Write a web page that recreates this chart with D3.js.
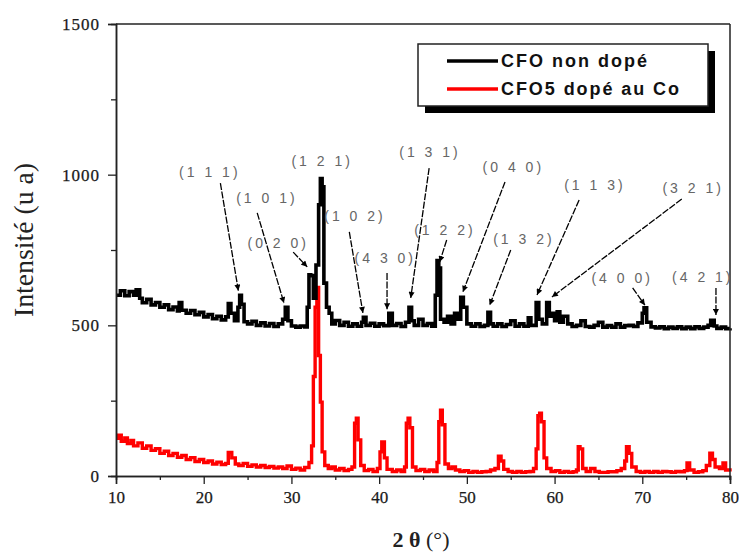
<!DOCTYPE html>
<html>
<head>
<meta charset="utf-8">
<script src="https://cdn.jsdelivr.net/npm/d3@7"></script>
<style>
html,body{margin:0;padding:0;background:#fff;}
svg{display:block;}
</style>
</head>
<body>
<svg id="chart" width="739" height="554"></svg>
<script>
// ---------- data ----------
const seriesNames = ["CFO non dopé", "CFO5 dopé au Co"];
const xTicks = [10, 20, 30, 40, 50, 60, 70, 80];
const yTicks = [0, 500, 1000, 1500];

// CFO non dopé : [2θ, intensity]
const cfoUndoped = [
[10,600],[10.5,615],[11,598],[11.5,612],[12,600],[12.3,618],[12.7,590],[13,575],[13.5,586],[14,568],[14.5,576],
[15,560],[15.5,568],[16,552],[16.5,561],[17,548],[17.2,576],[17.5,550],[18,540],[18.5,549],[19,535],[19.5,543],
[20,528],[20.5,536],[21,522],[21.5,530],[22,518],[22.5,528],[22.8,572],[23.1,540],[23.5,515],[23.9,560],[24.1,600],
[24.3,570],[24.6,512],[25,505],[25.5,513],[26,500],[26.5,508],[27,498],[27.5,506],[28,496],[28.5,505],[29,520],
[29.3,560],[29.6,515],[30,498],[30.5,494],[31,498],[31.5,495],[31.8,560],[32.0,668],[32.2,665],[32.5,590],
[32.8,700],[33.1,900],[33.3,987],[33.5,960],[33.7,640],[34.0,560],[34.3,540],[34.6,505],[35,516],[35.5,500],
[36,510],[36.5,497],[37,505],[37.5,497],[38.0,510],[38.2,527],[38.5,500],[39,507],[39.5,497],[40,505],[40.5,499],
[41.1,540],[41.5,500],[42,506],[42.5,496],[43.0,510],[43.4,560],[43.7,515],[44,500],[44.5,520],[45,500],[45.5,506],
[46,497],[46.4,600],[46.6,715],[46.8,690],[47.0,520],[47.4,510],[47.8,530],[48.2,505],[48.6,540],[49.0,520],
[49.3,593],[49.6,560],[50,505],[50.5,497],[51,505],[51.5,496],[52,500],[52.4,543],[52.7,505],[53,497],[53.5,505],
[54,496],[54.5,503],[55,515],[55.5,497],[56,505],[56.5,497],[57,525],[57.3,500],[57.9,576],[58.2,520],[58.6,505],
[59.1,576],[59.4,530],[59.7,540],[60.0,515],[60.3,545],[60.6,510],[61,530],[61.5,505],[62,496],[62.5,500],[63,515],
[63.5,496],[64,494],[64.5,500],[65,510],[65.5,494],[66,499],[66.5,494],[67,505],[67.5,494],[68,499],[68.5,500],
[69,496],[69.5,508],[70.0,540],[70.2,558],[70.5,510],[71,495],[71.5,491],[72,495],[72.5,489],[73,494],[73.5,490],
[74,495],[74.5,489],[75,494],[75.5,489],[76,495],[76.5,490],[77,494],[77.5,500],[77.8,517],[78.2,498],[78.5,490],
[79,494],[79.5,489],[80,490]
];

// CFO5 dopé au Co : [2θ, intensity]
const cfoCoDoped = [
[10,125],[10.3,135],[10.6,115],[11,126],[11.3,108],[11.7,118],[12,100],[12.5,110],[13,92],[13.5,100],[14,85],
[14.5,91],[15,75],[15.5,82],[16,68],[16.5,75],[17,62],[17.5,68],[18,55],[18.5,61],[19,48],[19.5,55],[20,45],
[20.5,50],[21,40],[21.5,46],[22,38],[22.5,42],[22.8,78],[23.2,60],[23.6,40],[24,35],[24.5,42],[25,32],[25.5,37],
[26,30],[26.5,35],[27,28],[27.5,32],[28,26],[28.5,30],[29,25],[29.5,33],[30,22],[30.5,26],[31,20],[31.5,28],
[32.0,45],[32.3,100],[32.5,330],[32.7,560],[32.9,626],[33.1,400],[33.3,245],[33.5,80],[33.8,35],[34.2,25],
[34.6,30],[35,20],[35.5,25],[36,18],[36.5,22],[36.9,30],[37.2,175],[37.4,192],[37.6,120],[37.9,35],[38.3,18],
[38.8,22],[39.3,15],[39.8,25],[40.1,80],[40.3,113],[40.6,60],[40.9,22],[41.5,15],[42,20],[42.5,15],[42.9,30],
[43.1,175],[43.3,192],[43.5,160],[43.8,30],[44.2,18],[44.7,22],[45.2,15],[45.7,20],[46.2,15],[46.6,45],[46.8,180],
[47.0,218],[47.2,170],[47.5,40],[47.9,25],[48.3,30],[48.7,20],[49.2,15],[49.7,18],[50.2,12],[50.7,15],[51.2,12],
[51.7,14],[52.2,15],[52.7,20],[53.2,25],[53.6,66],[53.9,50],[54.2,22],[54.7,15],[55.2,12],[55.7,15],[56.2,12],
[56.7,14],[57.2,15],[57.6,25],[57.9,90],[58.1,200],[58.3,208],[58.5,180],[58.8,60],[59.1,25],[59.6,15],[60.1,18],
[60.6,12],[61.1,15],[61.6,12],[62.1,14],[62.5,20],[62.7,97],[62.9,90],[63.2,25],[63.6,15],[64.1,25],[64.6,15],
[65.1,12],[65.6,12],[66.1,14],[66.6,14],[67.1,18],[67.6,25],[68.0,50],[68.2,97],[68.5,75],[68.8,30],[69.3,15],
[69.8,12],[70.3,15],[70.8,12],[71.3,15],[71.8,12],[72.3,15],[72.8,14],[73.3,12],[73.8,15],[74.3,14],[74.8,18],
[75.1,43],[75.4,20],[75.9,12],[76.4,14],[76.9,18],[77.3,35],[77.7,76],[78.0,55],[78.3,30],[78.8,25],[79.2,43],
[79.5,20],[80,15]
];

// Miller index annotations: label, label position, arrow start, arrow end (data units)
const annLabels = ["(1 1 1)","(1 0 1)","(0 2 0)","(1 2 1)","(1 0 2)","(4 3 0)","(1 3 1)","(1 2 2)","(0 4 0)","(1 3 2)","(1 1 3)","(3 2 1)","(4 0 0)","(4 2 1)"];
const annText  = [[20.7,1009],[27.2,923],[28.5,773],[33.5,1045],[37.25,863],[40.7,723],[45.8,1075],[47.5,816],[55.3,1025],[56.5,786],[64.6,966],[75.8,956],[67.7,657],[76.9,660]];
const annStart = [[21.9,972],[26.1,873],[30.2,743],null,[36.6,810],[40.9,674],[45.7,1022],[47.7,783],[54.35,976],[55.0,750],[62.8,916],[74.5,919],[68.9,624],[78.4,624]];
const annEnd   = [[23.95,615],[29.15,574],[31.8,694],null,[38.15,541],[40.9,553],[43.6,591],[46.9,710],[49.55,611],[52.6,567],[58.0,601],[59.7,594],[70.3,567],[78.4,534]];

// ---------- drawing ----------
const svg = d3.select("#chart");
const x = d3.scaleLinear().domain([10, 80]).range([116, 730]);
const y = d3.scaleLinear().domain([0, 1500]).range([476, 24]);

const defs = svg.append("defs");
defs.append("marker").attr("id","arr").attr("viewBox","0 0 10 10")
  .attr("refX",10).attr("refY",5).attr("markerWidth",8).attr("markerHeight",6)
  .attr("markerUnits","userSpaceOnUse").attr("orient","auto")
  .append("path").attr("d","M0,0 L10,5 L0,10 Z").attr("fill","#000");

// series lines
const line = d3.line().x(d => x(d[0])).y(d => y(d[1])).curve(d3.curveStepAfter);
svg.append("path").datum(cfoCoDoped).attr("d", line)
  .attr("fill","none").attr("stroke","#ff0000").attr("stroke-width",3.4).attr("stroke-linejoin","miter");
svg.append("path").datum(cfoUndoped).attr("d", line)
  .attr("fill","none").attr("stroke","#000").attr("stroke-width",3.6).attr("stroke-linejoin","miter");

// frame (top and right)
svg.append("line").attr("x1",x(10)).attr("x2",x(80)).attr("y1",y(1500)).attr("y2",y(1500))
  .attr("stroke","#222").attr("stroke-width",1.5);
svg.append("line").attr("x1",x(80)).attr("x2",x(80)).attr("y1",y(1500)).attr("y2",y(0)+4)
  .attr("stroke","#222").attr("stroke-width",1.5);

// axes
const xAxis = d3.axisBottom(x).tickValues(xTicks).tickSize(8).tickPadding(7).tickFormat(d3.format("d"));
const xMinor = d3.axisBottom(x).tickValues(d3.range(15, 80, 10)).tickSize(4).tickFormat("");
const yAxis = d3.axisLeft(y).tickValues(yTicks).tickSize(8).tickPadding(8).tickFormat(d3.format("d"));
const yMinor = d3.axisLeft(y).tickValues([250, 750, 1250]).tickSize(5).tickFormat("");

function styleAxis(g){
  g.select(".domain").attr("stroke","#222").attr("stroke-width",1.5);
  g.selectAll(".tick line").attr("stroke","#222").attr("stroke-width",1.3);
  g.selectAll("text").attr("font-family","'Liberation Serif', 'Times New Roman', serif")
    .attr("font-size",17).attr("fill","#1a1a1a").attr("stroke","#1a1a1a").attr("stroke-width",0.25);
}
svg.append("g").attr("transform",`translate(0,${y(0)})`).call(xAxis).call(styleAxis);
svg.append("g").attr("transform",`translate(0,${y(0)})`).call(xMinor).call(styleAxis);
svg.append("g").attr("transform",`translate(${x(10)},0)`).call(yAxis).call(styleAxis)
  .selectAll("text").attr("letter-spacing",1);
svg.append("g").attr("transform",`translate(${x(10)},0)`).call(yMinor).call(styleAxis);

// axis titles
svg.append("text")
  .attr("transform","translate(33,240) rotate(-90)")
  .attr("text-anchor","middle")
  .attr("font-family","'Liberation Serif', 'Times New Roman', serif")
  .attr("font-size",27).attr("fill","#222")
  .attr("textLength",154).attr("lengthAdjust","spacingAndGlyphs")
  .text("Intensité (u a)");

const xt = svg.append("text").attr("x",421).attr("y",547).attr("text-anchor","middle")
  .attr("font-family","'Liberation Serif', 'Times New Roman', serif").attr("font-size",22).attr("fill","#222");
xt.append("tspan").attr("font-weight","bold").text("2 θ ");
xt.append("tspan").text("(°)");

// annotations
const ann = svg.append("g");
annLabels.forEach((lab, i) => {
  if (annStart[i]) {
    ann.append("line")
      .attr("x1", x(annStart[i][0])).attr("y1", y(annStart[i][1]))
      .attr("x2", x(annEnd[i][0])).attr("y2", y(annEnd[i][1]))
      .attr("stroke","#000").attr("stroke-width",1.3)
      .attr("stroke-dasharray","7,1.5")
      .attr("marker-end","url(#arr)");
  }
  ann.append("text")
    .attr("x", x(annText[i][0])).attr("y", y(annText[i][1]))
    .attr("text-anchor","middle").attr("dominant-baseline","central")
    .attr("font-family","'Liberation Sans', Arial, sans-serif").attr("font-size",14)
    .attr("letter-spacing",3).attr("fill","#666")
    .text(lab);
});

// legend
const lg = svg.append("g");
lg.append("rect").attr("x",425).attr("y",51).attr("width",290).attr("height",62).attr("fill","#000");
lg.append("rect").attr("x",418).attr("y",44).attr("width",290).attr("height",62)
  .attr("fill","#fff").attr("stroke","#222").attr("stroke-width",1.5);
const legColors = ["#000", "#ff0000"];
const legY = [61, 89];
const legLen = [146, 178];
seriesNames.forEach((nm, i) => {
  lg.append("line").attr("x1",447).attr("x2",498).attr("y1",legY[i]).attr("y2",legY[i])
    .attr("stroke",legColors[i]).attr("stroke-width",3.5);
  lg.append("text").attr("x",501).attr("y",legY[i]).attr("dominant-baseline","central")
    .attr("font-family","'Liberation Sans', Arial, sans-serif").attr("font-weight","bold")
    .attr("font-size",18).attr("fill","#111")
    .attr("textLength",legLen[i]).attr("lengthAdjust","spacing")
    .text(nm);
});
</script>
</body>
</html>
